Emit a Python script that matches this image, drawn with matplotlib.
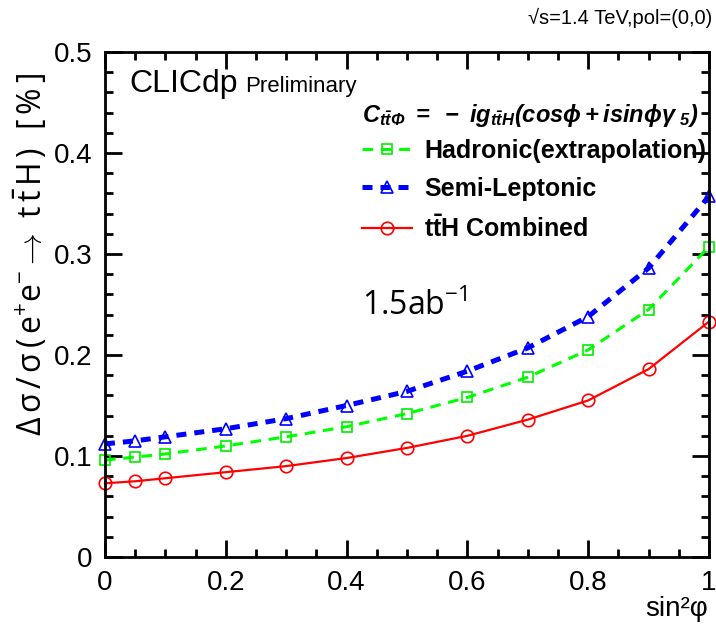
import matplotlib
matplotlib.use("Agg")
import matplotlib.pyplot as plt

plt.rcParams['font.family'] = ['Liberation Sans', 'DejaVu Sans']
plt.rcParams['mathtext.fontset'] = 'custom'
plt.rcParams['mathtext.rm'] = 'Open Sans'
plt.rcParams['mathtext.it'] = 'Open Sans:italic'
plt.rcParams['mathtext.bf'] = 'Liberation Sans:bold'
plt.rcParams['mathtext.bfit'] = 'Liberation Sans:italic:bold'
plt.rcParams['mathtext.sf'] = 'Open Sans'

# Data
sin2phi = [0.0, 0.05, 0.1, 0.2, 0.3, 0.4, 0.5, 0.6, 0.7, 0.8, 0.9, 1.0]
hadronic = [0.096, 0.099, 0.102, 0.110, 0.119, 0.129, 0.142, 0.158, 0.178, 0.205, 0.245, 0.307]
semilep = [0.112, 0.115, 0.119, 0.127, 0.137, 0.150, 0.164, 0.184, 0.207, 0.238, 0.286, 0.357]
combined = [0.073, 0.075, 0.078, 0.084, 0.090, 0.098, 0.108, 0.120, 0.136, 0.155, 0.186, 0.233]
labels = ['Hadronic(extrapolation)', 'Semi-Leptonic', r'$\mathbf{t\bar{t}H}$ Combined']

fig = plt.figure(figsize=(7.16, 6.27), dpi=100)
ax = fig.add_axes([0.1466, 0.1116, 0.8435, 0.8055])

l1, = ax.plot(sin2phi, hadronic, color='#00ff00', lw=2.2, dashes=(3.5, 2.5),
              marker='s', ms=7.5, mfc='none', mec='#00ee00', mew=1.2)
l2, = ax.plot(sin2phi, semilep, color='#0000ff', lw=3.6, dashes=(2.0, 1.6),
              marker='^', ms=9, mfc='none', mec='#0000ff', mew=1.2)
l3, = ax.plot(sin2phi, combined, color='#ff0000', lw=1.6,
              marker='o', ms=9, mfc='none', mec='#ff0000', mew=1.2)
for l in (l1, l2, l3):
    l.set_clip_on(False)

ax.set_xlim(0, 1)
ax.set_ylim(0, 0.5)
ax.set_xticks([0, 0.2, 0.4, 0.6, 0.8, 1.0])
ax.set_xticklabels(['0', '0.2', '0.4', '0.6', '0.8', '1'])
ax.set_yticks([0, 0.1, 0.2, 0.3, 0.4, 0.5])
ax.set_yticklabels(['0', '0.1', '0.2', '0.3', '0.4', '0.5'])
ax.set_xticks([i * 0.05 for i in range(21)], minor=True)
ax.set_yticks([i * 0.02 for i in range(26)], minor=True)
ax.tick_params(which='both', direction='in', top=True, right=True, width=2.0, colors='black')
ax.tick_params(which='major', length=12, labelsize=20, pad=9)
ax.tick_params(which='minor', length=6)
for s in ax.spines.values():
    s.set_linewidth(2.0)

ax.set_ylabel(r'$\mathrm{\Delta\,\sigma\,/\,\sigma\,(\,e^{+}e^{-}\rightarrow\ t\,\bar{t}\,H\,)\ \ [\,\%\,]}$',
              fontsize=23)
ax.yaxis.set_label_coords(-0.093, 0.598)
fig.text(0.989, 0.018, 'sin²φ', fontsize=20, ha='right', va='baseline')

fig.text(0.995, 0.962, '√s=1.4 TeV,pol=(0,0)', fontsize=14.5,
         ha='right', va='baseline')
fig.text(0.180, 0.853, 'CLICdp', fontsize=23, ha='left', va='baseline')
fig.text(0.342, 0.853, 'Preliminary', fontsize=16, ha='left', va='baseline')

fig.text(0.505, 0.805,
         r'$\mathbfit{C_{t\bar{t}\Phi}\ =\ -\ ig_{t\bar{t}H}(cos\phi+isin\phi\gamma_{\ 5})}$',
         fontsize=17, ha='left', va='baseline')

leg = ax.legend([l1, l2, l3], labels, loc='upper left',
                bbox_to_anchor=(0.505, 0.779), bbox_transform=fig.transFigure,
                frameon=False, prop={'weight': 'bold', 'size': 18}, handlelength=2.0,
                handletextpad=0.5, labelspacing=0.58, borderaxespad=0, borderpad=0,
                numpoints=1)

fig.text(0.505, 0.497, r'1.5ab$^{\mathrm{-1}}$', fontsize=23, ha='left', va='baseline',
         family=['Open Sans', 'DejaVu Sans'])

fig.savefig('out.png', dpi=100)
